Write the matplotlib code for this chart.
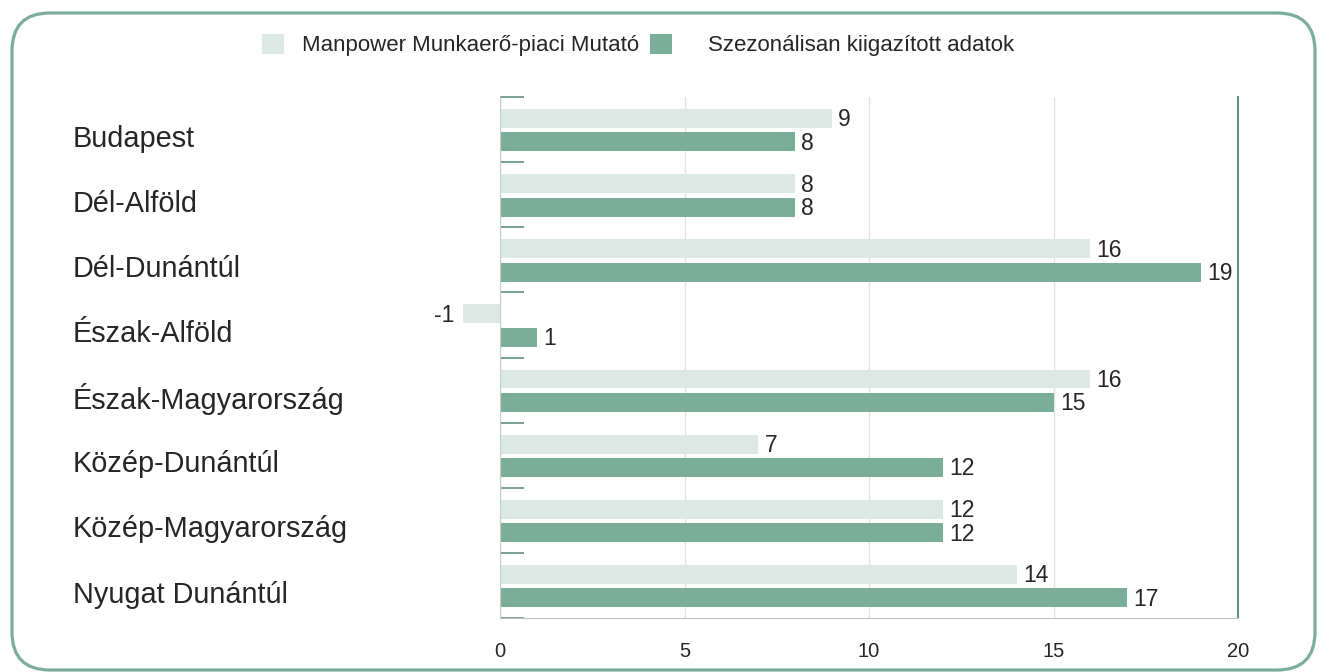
import matplotlib.pyplot as plt
from matplotlib.patches import FancyBboxPatch
import numpy as np

plt.rcParams["font.family"] = ["Liberation Sans", "DejaVu Sans"]

regions = ["Budapest", "Dél-Alföld", "Dél-Dunántúl", "Észak-Alföld",
           "Észak-Magyarország", "Közép-Dunántúl", "Közép-Magyarország",
           "Nyugat Dunántúl"]
mpm = [9, 8, 16, -1, 16, 7, 12, 14]
seasonal = [8, 8, 19, 1, 15, 12, 12, 17]
xticks = [0, 5, 10, 15, 20]

light = "#dce8e4"
dark = "#7aae98"
txt = "#262626"

fig = plt.figure(figsize=(13.27, 6.72), dpi=100)
ax = fig.add_axes([500 / 1327, 1 - 618 / 672, 738 / 1327, 521 / 672])

y = np.arange(len(regions))
h = 0.29
b1 = ax.barh(y - 0.17, mpm, height=h, color=light, clip_on=False, zorder=2)
b2 = ax.barh(y + 0.19, seasonal, height=h, color=dark, clip_on=False, zorder=2)

for bars, vals in [(b1, mpm), (b2, seasonal)]:
    for r, v in zip(bars, vals):
        yc = r.get_y() + r.get_height() / 2
        if v >= 0:
            ax.annotate(str(v), (v, yc), xytext=(4.5, -1), textcoords="offset points",
                        ha="left", va="center", fontsize=16.5, color=txt,
                        annotation_clip=False)
        else:
            ax.annotate(str(v), (v, yc), xytext=(-6, -1), textcoords="offset points",
                        ha="right", va="center", fontsize=16.5, color=txt,
                        annotation_clip=False)

ax.set_xlim(0, 20)
ax.set_ylim(len(regions) - 0.5, -0.5)
ax.set_xticks(xticks)
ax.set_xticklabels([str(t) for t in xticks], fontsize=14.5, color=txt)
ax.tick_params(axis="x", length=0, pad=17)
ax.grid(axis="x", color="#e2e2e2", linewidth=1, zorder=0)
ax.set_yticks([])
ax.set_yticks(np.arange(len(regions) + 1) - 0.5, minor=True)
ax.tick_params(axis="y", which="minor", direction="in", length=17, width=1.3,
               color="#6f9a8a")

ax.spines["top"].set_visible(False)
ax.spines["left"].set_color("#bcd3ca")
ax.spines["bottom"].set_color("#b8c6c1")
ax.spines["right"].set_color("#5f9683")
ax.spines["right"].set_linewidth(1.5)

for i, name in enumerate(regions):
    ax.text(-0.5786, i + 0.14, name, transform=ax.get_yaxis_transform(),
            ha="left", va="center", fontsize=20.8, color=txt)

leg1 = fig.legend([b1], ["Manpower Munkaerő-piaci Mutató"], loc="center left",
                  bbox_to_anchor=(242 / 1327, 0.933), frameon=False, fontsize=16,
                  handlelength=1.0, handleheight=1.0, handletextpad=0.8)
leg2 = fig.legend([b2], ["Szezonálisan kiigazított adatok"], loc="center left",
                  bbox_to_anchor=(630 / 1327, 0.933), frameon=False, fontsize=16,
                  handlelength=1.0, handleheight=1.0, handletextpad=1.6)
for leg in (leg1, leg2):
    for t in leg.get_texts():
        t.set_color(txt)

border = FancyBboxPatch((0.12, 0.02), 13.03, 6.57, boxstyle="round,pad=0,rounding_size=0.38",
                        transform=fig.dpi_scale_trans, facecolor="none",
                        edgecolor=dark, linewidth=2.3)
fig.patches.append(border)

fig.savefig("out.png", dpi=100)
